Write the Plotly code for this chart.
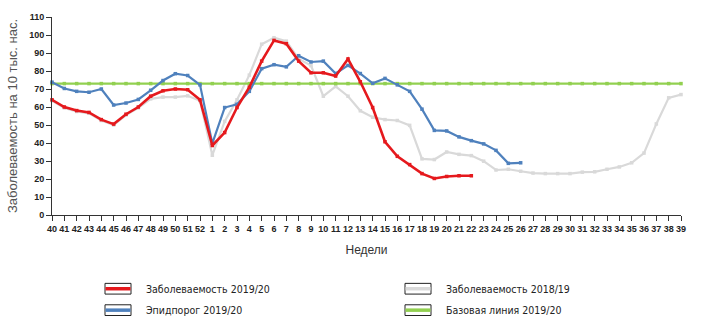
import plotly.graph_objects as go

weeks = [str(w) for w in range(40, 53)] + [str(w) for w in range(1, 40)]

inc_2019_20 = [64, 60, 58, 57, 53, 50.5, 56, 60, 66, 69, 70, 69.6, 64,
               38.6, 45.8, 59.7, 71, 85.5, 97, 95.2, 85.5, 79, 79, 77.2, 86.7,
               74, 59.7, 40.7, 32.6, 28, 23, 20.3, 21.4, 21.8, 21.8]
epi_2019_20 = [73.8, 70.3, 68.7, 68.2, 70, 61.1, 62.2, 64.2, 69.3, 74.7, 78.5, 77.5, 72.3,
               39.8, 59.7, 61.5, 68.7, 81.3, 83.5, 82.3, 88.5, 85, 85.5, 78.6, 83.1,
               78.6, 73.2, 75.9, 72.3, 68.7, 58.8, 47, 46.7, 43.4, 41.3, 39.5, 35.9, 28.7, 29]
inc_2018_19 = [63.5, 59.5, 57.5, 56.5, 52.5, 50, 55.5, 59.5, 64.5, 65.5, 65.5, 66.2, 63.5,
               33.2, 52, 64, 77.7, 94.9, 98.5, 96.6, 86.7, 83, 66, 71.4, 66, 57.9, 54.3,
               53, 52.5, 49.8, 31.2, 30.8, 35, 33.7, 33, 29.9, 25, 25.4, 24.3, 23.3, 23,
               23, 23, 23.8, 24, 25.4, 26.7, 29, 34.4, 50.6, 65.1, 66.9]
baseline_2019_20 = [73] * len(weeks)

names = ["Заболеваемость 2019/20", "Эпидпорог 2019/20",
         "Заболеваемость 2018/19", "Базовая линия 2019/20"]
colors = ["#e5191d", "#4f81bd", "#d9d9d9", "#92d050"]

fig = go.Figure()
series = [(inc_2018_19, 2, 2.2), (baseline_2019_20, 3, 2.3),
          (epi_2019_20, 1, 2.2), (inc_2019_20, 0, 2.6)]
for vals, idx, w in series:
    fig.add_trace(go.Scatter(
        x=weeks[:len(vals)], y=vals, name=names[idx], mode="lines+markers",
        line=dict(color=colors[idx], width=w),
        marker=dict(symbol="square", size=3.5, color=colors[idx]),
        showlegend=False, cliponaxis=False))

fig.update_layout(
    width=704, height=333,
    margin=dict(l=52, r=23, t=12, b=117.7),
    plot_bgcolor="white", paper_bgcolor="white",
    font=dict(family="Liberation Sans, Arial, sans-serif", color="#333333"),
    xaxis=dict(type="category", categoryorder="array", categoryarray=weeks,
               range=[0, len(weeks) - 1], showgrid=False, zeroline=False,
               showline=True, linecolor="#333333", linewidth=1,
               ticks="outside", ticklen=5, tickcolor="#333333",
               tickangle=0,
               tickfont=dict(size=9, family="Liberation Sans, Arial", weight="bold", color="#222"),
               title=dict(text="Недели", font=dict(size=12, color="#333"), standoff=12)),
    yaxis=dict(range=[0, 110], dtick=10, showgrid=False, zeroline=False,
               showline=True, linecolor="#333333", linewidth=1,
               ticks="outside", ticklen=5, tickcolor="#333333",
               tickfont=dict(size=9, family="Liberation Sans, Arial", weight="bold", color="#222"),
               title=dict(text="Заболеваемость на 10 тыс. нас.",
                          font=dict(size=13, color="#555"), standoff=8)),
)

# legend drawn as boxed swatches (two columns)
legend_pos = [(105, 291), (105, 313), (405, 291), (405, 313)]
W, H = 704, 333
L, R, T, B = 52, 23, 12, 117.7
pw, ph = W - L - R, H - T - B
def px(x):
    return (x - L) / pw
def py(y):
    return (H - B - y) / ph
for i, (lx, ly) in enumerate(legend_pos):
    fig.add_shape(type="rect", xref="paper", yref="paper",
                  x0=px(lx), x1=px(lx + 26), y0=py(ly - 5.5), y1=py(ly + 5.5),
                  line=dict(color="#222", width=1), fillcolor="white")
    fig.add_shape(type="line", xref="paper", yref="paper",
                  x0=px(lx + 0.5), x1=px(lx + 25.5), y0=py(ly), y1=py(ly),
                  line=dict(color=colors[i], width=3.5))
    fig.add_annotation(text=names[i], xref="paper", yref="paper",
                       x=px(lx + 39), y=py(ly), xanchor="left", yanchor="middle",
                       showarrow=False, font=dict(size=10.5, color="#222",
                                                  family="DejaVu Sans Condensed, DejaVu Sans"))

fig.write_html("out.html")
